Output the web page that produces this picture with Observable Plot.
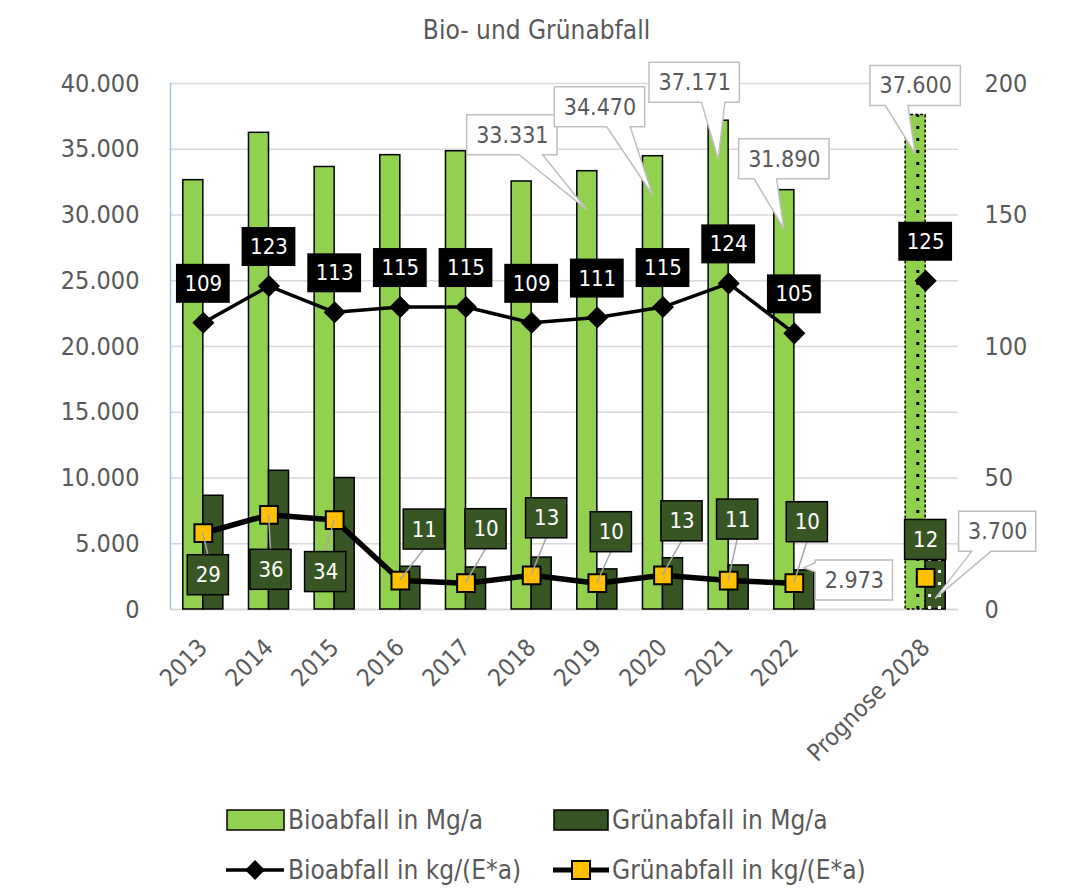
<!DOCTYPE html>
<html><head><meta charset="utf-8">
<script src="https://cdn.jsdelivr.net/npm/d3@7"></script>
<script src="https://cdn.jsdelivr.net/npm/@observablehq/plot@0.6"></script>
<style>
body{margin:0;background:#fff;}
#wrap{position:relative;width:1073px;height:888px;font-family:"DejaVu Sans Condensed","Liberation Sans Narrow",Roboto,sans-serif;color:#595959;}
#title{position:absolute;left:0;width:1073px;top:13px;text-align:center;font-size:26px;line-height:34px;}
#chart{position:absolute;left:0;top:60px;}
.ytitle{position:absolute;font-size:24px;white-space:nowrap;transform:translate(-50%,-50%) rotate(-90deg);}
.leg{position:absolute;display:flex;align-items:center;font-size:26px;white-space:nowrap;height:28px;}
.leg svg{margin-right:2px;}
</style></head>
<body><div id="wrap">
<div id="title">Bio- und Grünabfall</div>
<div class="ytitle" style="left:27px;top:370px;">Mg/a</div>
<div class="ytitle" style="left:1058px;top:345px;">kg/(E*a)</div>
<div id="chart"></div>
<div class="leg" style="left:226px;top:806px;"><svg width="60" height="24"><rect x="1" y="2" width="57" height="20" fill="#92d050" stroke="#000" stroke-width="1.5"/></svg>Bioabfall in Mg/a</div>
<div class="leg" style="left:553px;top:806px;"><svg width="57" height="24"><rect x="1" y="2" width="54" height="20" fill="#375623" stroke="#000" stroke-width="1.5"/></svg>Grünabfall in Mg/a</div>
<div class="leg" style="left:226px;top:856px;"><svg width="60" height="24"><line x1="0" y1="12" x2="58" y2="12" stroke="#000" stroke-width="3.5"/><rect x="22" y="5" width="14" height="14" fill="#000" transform="rotate(45 29 12)"/></svg>Bioabfall in kg/(E*a)</div>
<div class="leg" style="left:553px;top:856px;"><svg width="57" height="24"><line x1="0" y1="12" x2="56" y2="12" stroke="#000" stroke-width="5"/><rect x="19" y="3" width="18" height="18" fill="#ffc000" stroke="#000" stroke-width="2"/></svg>Grünabfall in kg/(E*a)</div>
</div>
<script>
// ---------- data ----------
const categories = ["2013","2014","2015","2016","2017","2018","2019","2020","2021","2022","","Prognose 2028"];
const bioMg    = [32650, 36250, 33650, 34550, 34850, 32550, 33331, 34470, 37171, 31890, null, 37600];
const gruenMg  = [8650, 10550, 10000, 3250, 3200, 3950, 3050, 3900, 3350, 2973, null, 3700];
const bioKg    = [109, 123, 113, 115, 115, 109, 111, 115, 124, 105, null, 125];
const gruenKg  = [29, 36, 34, 11, 10, 13, 10, 13, 11, 10, null, 12];
const mgTicks  = [0, 5000, 10000, 15000, 20000, 25000, 30000, 35000, 40000];
const kgTicks  = [0, 50, 100, 150, 200];
const bioMgCallouts = [6, 7, 8, 9, 11];
const gruenMgCallouts = [9, 11];

// ---------- layout / style (not data) ----------
const KG = 40000 / 200; // right axis (kg) mapped onto left axis (Mg)
const BW = 0.305;       // bar width in category units
const grOff = [[5,42],[2,55],[-9,52],[24,-51],[20,-54],[15,-57],[14,-51],[19,-54],[9,-61],[13,-61],null,[0,-38]];
const bioCallOff = {6:[-75,-75], 7:[-53,-88], 8:[-24,-77], 9:[0,-70], 11:[0,-68]};
const grCallOff = {9:{tip:[0,-2], off:[50,12], edge:"left"}, 11:{tip:[0,38], off:[62,-67], edge:"bottom"}};
const fmt = v => d3.format(",")(v).replace(/,/g, ".");
const isProg = i => categories[i].startsWith("Prognose");
const FONT = '"DejaVu Sans Condensed","Liberation Sans Narrow",Roboto,sans-serif';

const rows = categories.map((c, i) => ({i, cat: c, bioMg: bioMg[i], gruenMg: gruenMg[i], bioKg: bioKg[i], gruenKg: gruenKg[i]}));
const has = k => rows.filter(d => d[k] != null);

const marks = [
  Plot.gridY({ticks: mgTicks.filter(t => t > 0), stroke: "#d9d9d9", strokeOpacity: 1, strokeWidth: 1.5}),
  Plot.ruleY([0], {stroke: "#d9d9d9", strokeWidth: 2}),
  Plot.ruleX([-0.5], {stroke: "#9dc3e6", strokeWidth: 1.5}),
  Plot.axisY({ticks: mgTicks, tickFormat: fmt, tickSize: 0, tickPadding: 31, label: null, fontSize: 25}),
  Plot.axisY({anchor: "right", ticks: kgTicks.map(v => v * KG), tickFormat: d => String(d / KG), tickSize: 0, tickPadding: 26, label: null, fontSize: 25}),
  Plot.axisX({ticks: rows.filter(d => d.cat !== "").map(d => d.i), tickFormat: i => categories[i], tickRotate: -45, tickSize: 0, tickPadding: 34, label: null, fontSize: 24}),
  Plot.rectY(has("bioMg").filter(d => !isProg(d.i)), {x1: d => d.i - BW, x2: d => d.i, y: "bioMg", fill: "#92d050", stroke: "#000", strokeWidth: 1.5}),
  Plot.rectY(has("bioMg").filter(d => isProg(d.i)), {x1: d => d.i - BW, x2: d => d.i, y: "bioMg", fill: "#92d050", stroke: "#000", strokeWidth: 1.5, strokeDasharray: "3,2"}),
  Plot.rectY(has("gruenMg"), {x1: d => d.i, x2: d => d.i + BW, y: "gruenMg", fill: "#375623", stroke: "#000", strokeWidth: 1.5}),
  Plot.ruleX(has("bioMg").filter(d => isProg(d.i)), {x: d => d.i - 0.12, y1: 0, y2: "bioMg", stroke: "#000", strokeWidth: 3, strokeDasharray: "3,9"}),
  Plot.ruleX(has("gruenMg").filter(d => isProg(d.i)), {x: d => d.i + 0.06, y1: 0, y2: "gruenMg", stroke: "#fff", strokeWidth: 3, strokeDasharray: "3,9"}),
  Plot.ruleX(has("gruenMg").filter(d => isProg(d.i)), {x: d => d.i + 0.21, y1: 0, y2: "gruenMg", stroke: "#fff", strokeWidth: 3, strokeDasharray: "3,9"}),
  Plot.line(rows, {x: "i", y: d => d.bioKg == null ? NaN : d.bioKg * KG, stroke: "#000", strokeWidth: 3.5}),
  Plot.line(rows, {x: "i", y: d => d.gruenKg == null ? NaN : d.gruenKg * KG, stroke: "#000", strokeWidth: 5.5}),
  Plot.dot(has("bioKg"), {x: "i", y: d => d.bioKg * KG, symbol: "square", rotate: 45, r: 8.8, fill: "#000"}),
  Plot.dot(has("gruenKg"), {x: "i", y: d => d.gruenKg * KG, symbol: "square", r: 10, fill: "#ffc000", stroke: "#000", strokeWidth: 2})
];

const specs = [];
function addLabel(s) {
  specs.push(s);
  marks.push(Plot.text([s], {x: "x", y: "y", text: "text", dx: s.dx, dy: s.dy, fill: s.color, fontSize: s.size}));
}
has("bioKg").forEach(d => addLabel({kind: "box", x: d.i, y: d.bioKg * KG, text: String(d.bioKg), dx: 0, dy: -39, color: "#fff", size: 22, padX: 8, boxH: 39, fillBox: "#000", strokeBox: "none", leader: false}));
has("gruenKg").forEach(d => { const o = grOff[d.i]; addLabel({kind: "box", x: d.i, y: d.gruenKg * KG, text: String(d.gruenKg), dx: o[0], dy: o[1], color: "#fff", size: 22, padX: 8, boxH: 40, fillBox: "#375623", strokeBox: "#000", leader: Math.abs(o[1]) > 40}); });
bioMgCallouts.forEach(i => { const o = bioCallOff[i]; addLabel({kind: "callout", x: i - BW / 2, y: bioMg[i], text: fmt(bioMg[i]), tip: [0, 39], dx: o[0], dy: 39 + o[1], color: "#595959", size: 23, padX: 9, boxH: 40, edge: "bottom"}); });
gruenMgCallouts.forEach(i => { const c = grCallOff[i]; addLabel({kind: "callout", x: i + BW / 2, y: gruenMg[i], text: fmt(gruenMg[i]), tip: c.tip, dx: c.tip[0] + c.off[0], dy: c.tip[1] + c.off[1], color: "#595959", size: 23, padX: 9, boxH: 40, edge: c.edge}); });

const chart = Plot.plot({
  width: 1073, height: 740,
  marginTop: 23, marginBottom: 191, marginLeft: 170, marginRight: 115,
  x: {type: "linear", domain: [-0.5, 11.5]},
  y: {domain: [0, 40000], label: null},
  style: {fontFamily: FONT, fontSize: "25px", color: "#595959", background: "#fff", overflow: "visible"},
  marks
});
document.getElementById("chart").appendChild(chart);

// ---------- label boxes, leader lines and callouts ----------
const NS = "http://www.w3.org/2000/svg";
const X = chart.scale("x"), Y = chart.scale("y");
function el(tag, attrs) { const e = document.createElementNS(NS, tag); for (const k in attrs) e.setAttribute(k, attrs[k]); return e; }
const groups = Array.from(chart.children).filter(n => n.tagName.toLowerCase() === "g");
const labelGroups = groups.slice(groups.length - specs.length);
specs.forEach((s, k) => {
  const g = labelGroups[k];
  const t = g && g.querySelector("text");
  if (!t) return;
  const bb = t.getBBox();
  const px = X.apply(s.x), py = Y.apply(s.y);
  const cx = px + s.dx, cy = py + s.dy;
  const w = bb.width + 2 * s.padX, h = s.boxH;
  const x0 = cx - w / 2, y0 = cy - h / 2, x1 = cx + w / 2, y1 = cy + h / 2;
  const layer = el("g", {});
  if (s.kind === "box") {
    if (s.leader) layer.appendChild(el("line", {x1: px, y1: py, x2: cx, y2: s.dy > 0 ? y0 : y1, stroke: "#a6a6a6", "stroke-width": 1.5}));
    layer.appendChild(el("rect", {x: x0, y: y0, width: w, height: h, fill: s.fillBox, stroke: s.strokeBox, "stroke-width": 1.5}));
  } else {
    const tx = px + s.tip[0], ty = py + s.tip[1];
    let d;
    if (s.edge === "bottom") {
      const f = tx > cx + 5 ? [0.58, 0.84] : [0.17, 0.42];
      const b1 = x0 + f[0] * w, b2 = x0 + f[1] * w;
      d = `M${x0},${y0}H${x1}V${y1}H${b2}L${tx},${ty}L${b1},${y1}H${x0}Z`;
    } else {
      const c1 = y0 + 0.07 * h, c2 = y0 + 0.3 * h;
      d = `M${x0},${y0}H${x1}V${y1}H${x0}V${c2}L${tx},${ty}L${x0},${c1}Z`;
    }
    layer.appendChild(el("path", {d, fill: "#fff", stroke: "#bfbfbf", "stroke-width": 1.5}));
  }
  chart.insertBefore(layer, g);
});
</script>
</body></html>
